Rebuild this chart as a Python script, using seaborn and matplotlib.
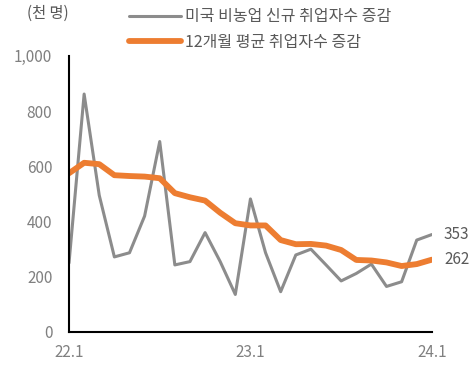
import seaborn as sns
import pandas as pd
import matplotlib.pyplot as plt

months = ['22.1', '22.2', '22.3', '22.4', '22.5', '22.6', '22.7', '22.8', '22.9', '22.10',
          '22.11', '22.12', '23.1', '23.2', '23.3', '23.4', '23.5', '23.6', '23.7', '23.8',
          '23.9', '23.10', '23.11', '23.12', '24.1']
payrolls = [250, 862, 495, 272, 287, 420, 690, 243, 255, 360,
            255, 136, 482, 287, 146, 279, 300, 243, 185, 212,
            246, 165, 182, 333, 353]
avg12 = [575, 613, 608, 568, 565, 563, 557, 503, 488, 476,
         432, 394, 386, 386, 333, 318, 319, 313, 297, 261,
         259, 252, 239, 246, 262]
tick_labels = ['22.1', '23.1', '24.1']

sns.set_style('white')
plt.rcParams['font.family'] = ['Noto Sans CJK KR', 'DejaVu Sans']

df = pd.DataFrame({'idx': range(len(months)), 'payrolls': payrolls, 'avg12': avg12})

fig = plt.figure(figsize=(4.74, 3.78), dpi=100)
ax = fig.add_axes([0.1456, 0.1217, 0.7655, 0.7303])

sns.lineplot(data=df, x='idx', y='payrolls', ax=ax, color='#8c8c8c', linewidth=2.2,
             label='미국 비농업 신규 취업자수 증감')
sns.lineplot(data=df, x='idx', y='avg12', ax=ax, color='#ed7d31', linewidth=4.2,
             label='12개월 평균 취업자수 증감')

ax.set_xlim(0, len(months) - 1)
ax.set_ylim(0, 1000)
ax.set_xticks([months.index(t) for t in tick_labels])
ax.set_xticklabels(tick_labels)
ax.set_yticks(range(0, 1001, 200))
ax.set_yticklabels([f'{v:,}' for v in range(0, 1001, 200)])
ax.set_xlabel('')
ax.set_ylabel('')

for side in ['top', 'right']:
    ax.spines[side].set_visible(False)
for side in ['left', 'bottom']:
    ax.spines[side].set_color('black')
    ax.spines[side].set_linewidth(1.5)
ax.tick_params(axis='both', direction='in', length=5, width=1.5, color='black',
               labelcolor='#808080', labelsize=11)
ax.tick_params(axis='x', pad=9)
ax.tick_params(axis='y', pad=12)

ax.text(len(months) - 1 + 0.8, payrolls[-1], f'{payrolls[-1]}', color='#595959',
        fontsize=11, va='center', ha='left')
ax.text(len(months) - 1 + 0.8, avg12[-1], f'{avg12[-1]}', color='#595959',
        fontsize=11, va='center', ha='left')

fig.text(0.057, 0.965, '(천 명)', color='#595959', fontsize=11, va='center', ha='left')

leg = ax.legend(loc='upper left', bbox_to_anchor=(0.125, 1.225), frameon=False,
                fontsize=11.5, handlelength=3.3, handletextpad=0.25, labelspacing=0.55)
for t in leg.get_texts():
    t.set_color('#595959')

fig.savefig('out.png', dpi=100)
